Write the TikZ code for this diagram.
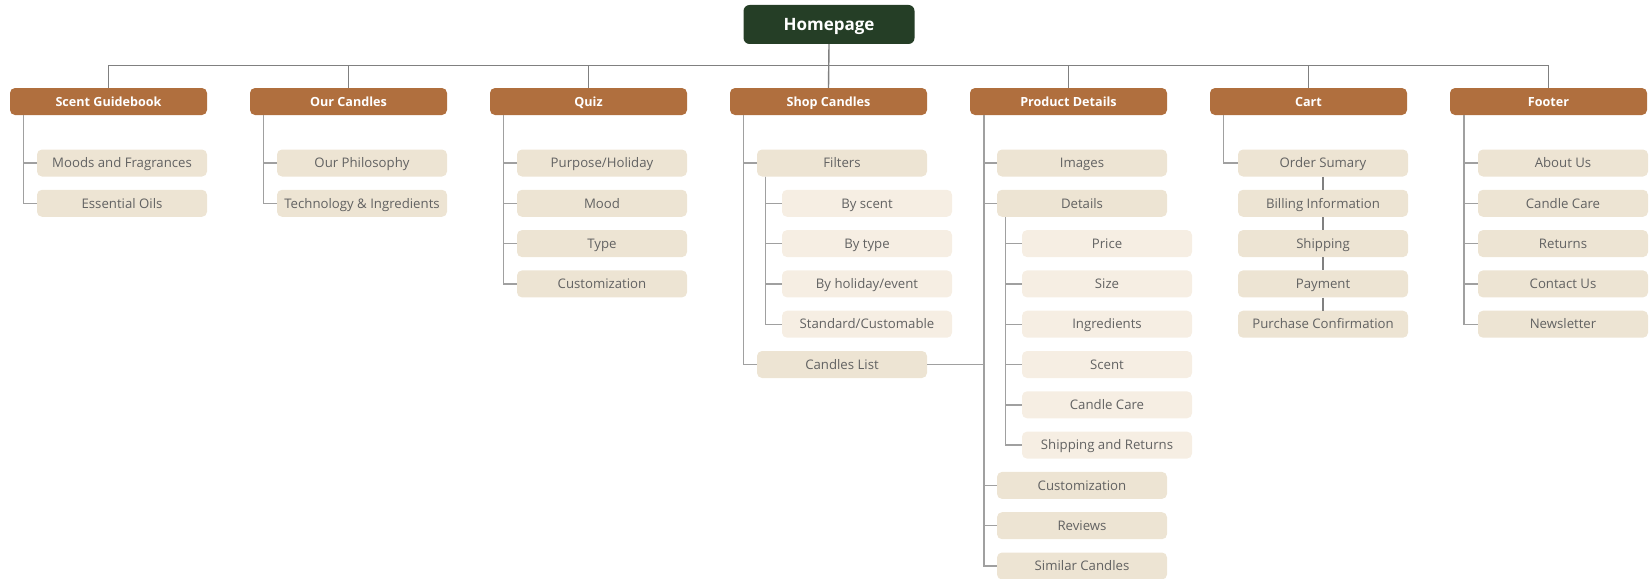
\documentclass[tikz,border=0pt]{standalone}
\usepackage{fontspec}
\setmainfont{Open Sans}
\definecolor{homegreen}{RGB}{37,62,38}
\definecolor{brown}{RGB}{176,111,62}
\definecolor{beige}{RGB}{237,228,211}
\definecolor{cream}{RGB}{246,238,227}
\definecolor{txtgray}{RGB}{98,98,98}
\definecolor{busgray}{RGB}{128,128,128}
\definecolor{linkgray}{RGB}{160,160,160}

\begin{document}
\begin{tikzpicture}[x=1pt,y=-1pt,
  home/.style={fill=homegreen,rounded corners=6pt,minimum width=171pt,minimum height=39pt,inner sep=0pt,text height=12.2pt,text depth=0pt,text=white,font=\fontsize{17}{20}\selectfont\bfseries},
  main/.style={fill=brown,rounded corners=5pt,minimum width=197pt,minimum height=27pt,inner sep=0pt,text height=9pt,text depth=0pt,text=white,font=\fontsize{12.6}{15}\selectfont\bfseries},
  sub/.style={fill=beige,rounded corners=5pt,minimum width=170pt,minimum height=27pt,inner sep=0pt,text height=9.4pt,text depth=0pt,text=txtgray,font=\fontsize{13.2}{15}\selectfont},
  subsub/.style={sub,fill=cream},
  bus/.style={busgray,line width=1.4pt},
  link/.style={linkgray,line width=1.4pt}]
\useasboundingbox (0,0) rectangle (1651,578);

% top level
\node[home] (home) at (829,24.5) {Homepage};
\foreach \name/\lab [count=\i from 0] in {sg/Scent Guidebook,oc/Our Candles,qz/Quiz,sc/Shop Candles,pd/Product Details,ct/Cart,ft/Footer}
\node[main] (\name) at (108.5+240*\i,101.5) {\lab};

% bus
\draw[bus] (sg.north) -- ++(0,-22) -| (ft.north);
\draw[bus] (home.south) -- (sc.north);
\foreach \name in {oc,qz,pd,ct}
\draw[bus] (\name.north) -- ++(0,-22);

% scent guidebook
\foreach \lab [count=\k from 0] in {Moods and Fragrances,Essential Oils}
\node[sub] (sg\k) at (122,163+40.3*\k) {\lab};
\foreach \k in {0,1}
\draw[link] ([xshift=13.5pt]sg.south west) |- (sg\k.west);

% our candles
\foreach \lab [count=\k from 0] in {Our Philosophy,Technology \& Ingredients}
\node[sub] (oc\k) at (362,163+40.3*\k) {\lab};
\foreach \k in {0,1}
\draw[link] ([xshift=13.5pt]oc.south west) |- (oc\k.west);

% quiz
\foreach \lab [count=\k from 0] in {Purpose/Holiday,Mood,Type,Customization}
\node[sub] (qz\k) at (602,163+40.3*\k) {\lab};
\foreach \k in {0,...,3}
\draw[link] ([xshift=13.5pt]qz.south west) |- (qz\k.west);

% shop candles
\node[sub] (fil) at (842,163) {Filters};
\node[sub] (lst) at (842,163+40.3*5) {Candles List};
\foreach \lab [count=\k from 0] in {By scent,By type,By holiday/event,Standard/Customable}
\node[subsub] (fil\k) at (867,163+40.3+40.3*\k) {\lab};
\foreach \n in {fil,lst}
\draw[link] ([xshift=13.5pt]sc.south west) |- (\n.west);
\foreach \k in {0,...,3}
\draw[link] ([xshift=8.5pt]fil.south west) |- (fil\k.west);

% product details
\node[sub] (img) at (1082,163) {Images};
\node[sub] (det) at (1082,163+40.3) {Details};
\foreach \lab [count=\k from 0] in {Price,Size,Ingredients,Scent,Candle Care,Shipping and Returns}
\node[subsub] (det\k) at (1107,163+80.6+40.3*\k) {\lab};
\foreach \lab [count=\k from 0] in {Customization,Reviews,Similar Candles}
\node[sub] (pd\k) at (1082,163+40.3*8+40.3*\k) {\lab};
\foreach \n in {img,det,pd0,pd1,pd2}
\draw[link] ([xshift=14pt]pd.south west) |- (\n.west);
\foreach \k in {0,...,5}
\draw[link] ([xshift=8.5pt]det.south west) |- (det\k.west);
\draw[link] (lst.east) -- ([xshift=14pt]pd.south west |- lst.east);

% cart
\foreach \lab [count=\k from 0] in {Order Sumary,Billing Information,Shipping,Payment,Purchase Confirmation}
\node[sub] (ct\k) at (1323,163+40.3*\k) {\lab};
\draw[link] ([xshift=13.5pt]ct.south west) |- (ct0.west);
\foreach \k [count=\j from 1] in {0,...,3}
\draw[bus] (ct\k.south) -- (ct\j.north);

% footer
\foreach \lab [count=\k from 0] in {About Us,Candle Care,Returns,Contact Us,Newsletter}
\node[sub] (ft\k) at (1563,163+40.3*\k) {\lab};
\foreach \k in {0,...,4}
\draw[link] ([xshift=14pt]ft.south west) |- (ft\k.west);
\end{tikzpicture}
\end{document}
